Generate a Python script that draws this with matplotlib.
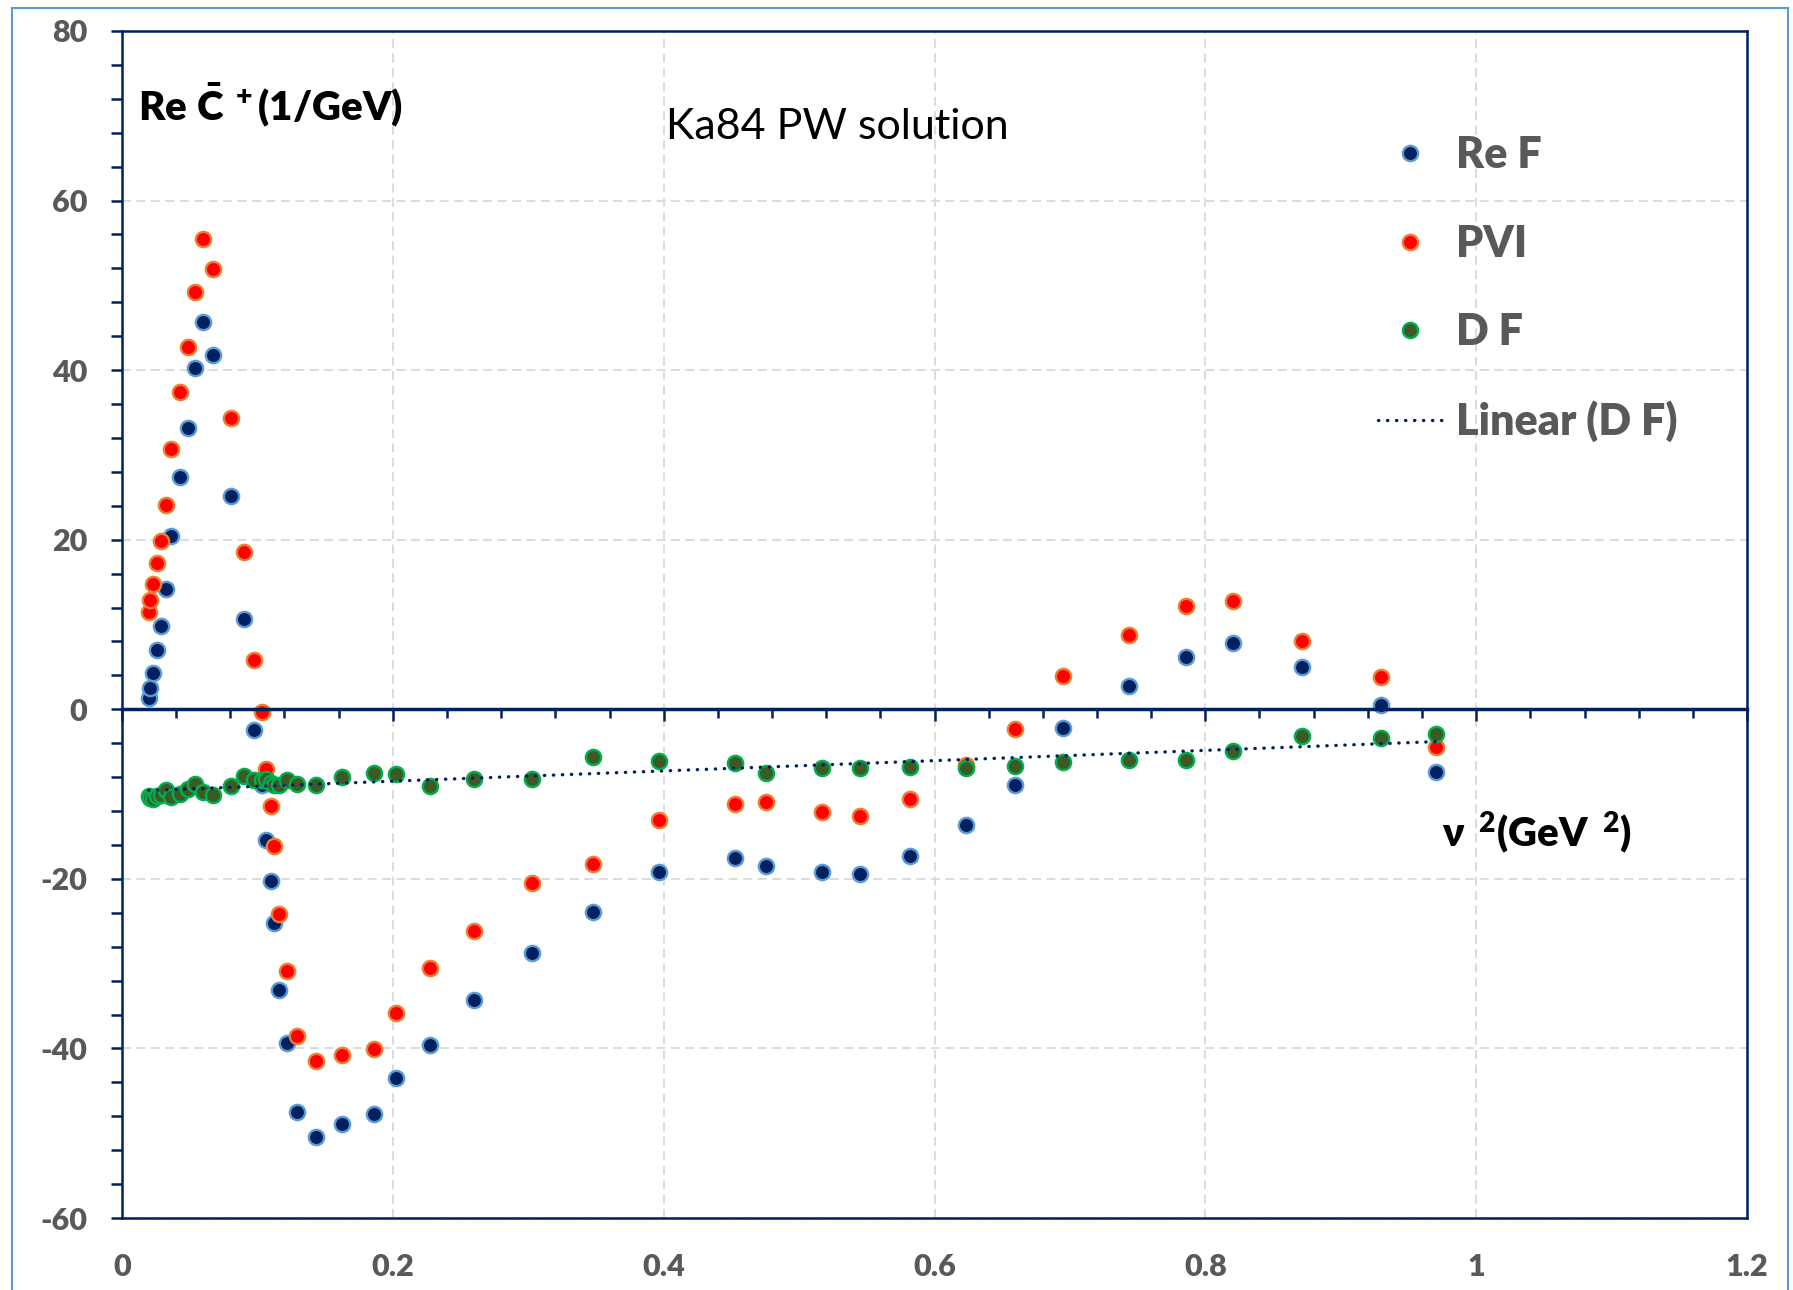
import numpy as np
import matplotlib
matplotlib.use("Agg")
import matplotlib.pyplot as plt
from matplotlib.patches import Rectangle
from matplotlib.ticker import MultipleLocator, FuncFormatter

plt.rcParams['font.family'] = ['Lato', 'DejaVu Sans']
plt.rcParams['font.weight'] = 'heavy'
plt.rcParams['axes.unicode_minus'] = False
plt.rcParams['mathtext.fontset'] = 'custom'
plt.rcParams['mathtext.rm'] = 'Lato'
plt.rcParams['mathtext.bf'] = 'Lato:heavy'
plt.rcParams['mathtext.it'] = 'Lato:italic'
plt.rcParams['mathtext.fallback'] = 'stixsans'

# nu^2 in GeV^2, shared by all three series
nu2 = [0.0197, 0.0209, 0.0232, 0.0259, 0.0286, 0.0325, 0.0365, 0.0429, 0.0488,
       0.0537, 0.0596, 0.0670, 0.0806, 0.0904, 0.0978, 0.1033, 0.1065, 0.1100,
       0.1120, 0.1157, 0.1220, 0.1290, 0.1430, 0.1625, 0.1860, 0.2020, 0.2276,
       0.2600, 0.3030, 0.3480, 0.3969, 0.4527, 0.4754, 0.5168, 0.5450, 0.5820,
       0.6233, 0.6595, 0.6952, 0.7440, 0.7856, 0.8208, 0.8717, 0.9298, 0.9705]

re_f = [1.3, 2.56, 4.3, 7.0, 9.8, 14.2, 20.45, 27.4, 33.2, 40.2, 45.7, 41.8,
        25.2, 10.6, -2.5, -8.9, -15.4, -20.2, -25.2, -33.1, -39.4, -47.5, -50.45,
        -48.9, -47.7, -43.5, -39.6, -34.3, -28.7, -23.9, -19.15, -17.5, -18.44,
        -19.15, -19.42, -17.34, -13.64, -8.93, -2.25, 2.75, 6.12, 7.86, 4.95,
        0.51, -7.35]

pvi = [11.45, 12.9, 14.75, 17.2, 19.8, 24.05, 30.7, 37.4, 42.7, 49.2, 55.5,
       51.9, 34.3, 18.5, 5.8, -0.3, -7.1, -11.4, -16.1, -24.2, -30.9, -38.5,
       -41.5, -40.8, -40.1, -35.8, -30.5, -26.1, -20.5, -18.25, -13.05, -11.13,
       -10.93, -12.11, -12.54, -10.58, -6.6, -2.36, 3.93, 8.76, 12.18, 12.81,
       8.1, 3.85, -4.4]

d_f = [-10.26, -10.45, -10.53, -10.26, -10.06, -9.55, -10.3, -9.98, -9.39,
       -8.8, -9.74, -10.14, -9.08, -7.9, -8.29, -8.29, -8.21, -8.68, -8.88,
       -8.96, -8.37, -8.84, -8.92, -8.02, -7.54, -7.62, -9.08, -8.17, -8.21,
       -5.66, -6.06, -6.37, -7.47, -6.96, -6.88, -6.76, -6.88, -6.65, -6.18,
       -5.98, -5.98, -4.92, -3.15, -3.43, -2.95]

navy = '#002060'
gray = '#595959'

fig = plt.figure(figsize=(17.93, 12.90), dpi=100)
ax = fig.add_axes([122 / 1793, 72 / 1290, 1625 / 1793, 1187 / 1290])

ax.set_xlim(0, 1.2)
ax.set_ylim(-60, 80)

# grid
ax.grid(True, color='#D9D9D9', linestyle=(0, (5, 3)), linewidth=1.3)
ax.set_axisbelow(True)

mk = dict(linestyle='none', marker='o', markersize=11, markeredgewidth=1.7)
ax.plot(nu2, re_f, color='#002060', markeredgecolor='#5B9BD5', label='Re F', zorder=3, **mk)
ax.plot(nu2, pvi, color='#FF0000', markeredgecolor='#ED7D31', label='PVI', zorder=3, **mk)
ax.plot(nu2, d_f, color='#3B5A26', markeredgecolor='#00B050', label='D F', zorder=3, **mk)

# linear trendline of D F
k, b = np.polyfit(nu2, d_f, 1)
xt = np.array([min(nu2), max(nu2)])
ax.plot(xt, k * xt + b, color=navy, linewidth=2.4, linestyle=(0, (0.1, 2.6)),
        dash_capstyle='round', label='Linear (D F)', zorder=4)

# spines
for s in ax.spines.values():
    s.set_color(navy)
    s.set_linewidth(1.8)

# y axis
ax.yaxis.set_major_locator(MultipleLocator(20))
ax.yaxis.set_minor_locator(MultipleLocator(4))
ax.tick_params(axis='y', which='both', direction='out', length=8, width=1.8,
               color=navy, pad=17)
ax.tick_params(axis='y', which='major', labelsize=22, labelcolor=gray)

# x axis labels on the bottom spine, ticks on the zero line
ax.xaxis.set_major_locator(MultipleLocator(0.2))
ax.xaxis.set_major_formatter(FuncFormatter(lambda v, p: '{:g}'.format(round(v, 2))))
ax.tick_params(axis='x', which='both', length=0, labelsize=22, labelcolor=gray, pad=25)

zero = ax.secondary_xaxis(0, transform=ax.transData)
zero.set_zorder(5)
zero.xaxis.set_major_locator(MultipleLocator(0.2))
zero.xaxis.set_minor_locator(MultipleLocator(0.04))
zero.tick_params(which='major', direction='out', length=8.5, width=1.8, color=navy,
                 labelbottom=False)
zero.tick_params(which='minor', direction='out', length=6.5, width=1.8, color=navy)
zero.spines['bottom'].set_color(navy)
zero.spines['bottom'].set_linewidth(2.5)

# texts
ax.text(0.0098, 0.925, r'$\mathbf{Re\ \bar{C}^{\ +}(1/GeV)}$', transform=ax.transAxes,
        fontsize=29, color='black', ha='left', va='baseline')
ax.text(0.335, 0.909, 'Ka84 PW solution', transform=ax.transAxes,
        fontsize=31, fontweight='normal', color='black', ha='left', va='baseline')
ax.text(0.812, 0.313, r'$\mathrm{\nu}^{\ \ \mathbf{2}}\mathbf{(GeV}^{\ \ \mathbf{2}}\mathbf{)}$',
        transform=ax.transAxes, fontsize=29, color='black', ha='left', va='baseline')

leg = ax.legend(loc='upper left', bbox_to_anchor=(0.773, 0.912), frameon=False,
                prop={'family': 'Lato', 'weight': 'heavy', 'size': 31},
                labelcolor=gray, handlelength=1.5, handletextpad=0.3,
                labelspacing=1.12, borderpad=0, borderaxespad=0)

fig.patches.append(Rectangle((12 / 1793, -0.01), 1776 / 1793, 1282 / 1290 + 0.01,
                             transform=fig.transFigure, fill=False,
                             edgecolor='#5B9BD5', linewidth=1.5))

fig.savefig('out.png', dpi=100)
